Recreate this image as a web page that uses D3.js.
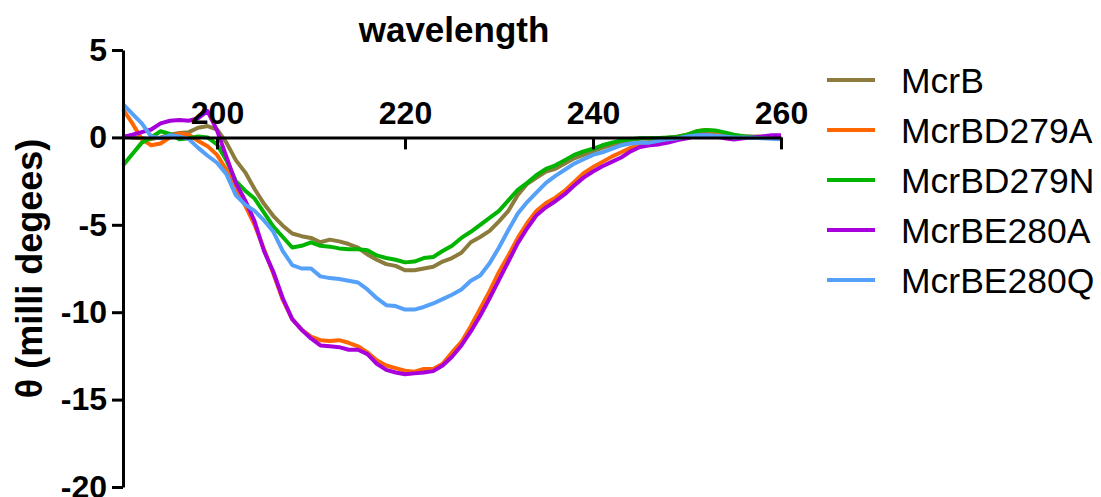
<!DOCTYPE html>
<html>
<head>
<meta charset="utf-8">
<script src="https://cdn.jsdelivr.net/npm/d3@7"></script>
<style>
  html, body { margin: 0; padding: 0; background: #fff; }
  svg { display: block; font-family: "Liberation Sans", Arial, Helvetica, sans-serif; }
</style>
</head>
<body>
<svg id="chart" width="1101" height="497"></svg>
<script>
// CD spectra, 190–260 nm in 1 nm steps
const wavelengths = d3.range(190, 261);

const seriesNames = ["McrB", "McrBD279A", "McrBD279N", "McrBE280A", "McrBE280Q"];
const seriesColors = ["#8B7B3C", "#FF6600", "#00B400", "#A800DC", "#55A0F8"];

const mcrB = [
  0.05, 0.0, -0.05, -0.1, 0.0, 0.15, 0.25, 0.3, 0.55, 0.65,
  0.45, -0.3, -1.3, -2.0, -2.95, -3.8, -4.5, -5.05, -5.5, -5.65,
  -5.75, -6.0, -5.85, -5.95, -6.1, -6.3, -6.7, -7.0, -7.25, -7.35,
  -7.6, -7.6, -7.5, -7.4, -7.1, -6.9, -6.6, -6.0, -5.7, -5.35,
  -4.8, -4.2, -3.3, -2.65, -2.3, -1.95, -1.8, -1.5, -1.2, -1.0,
  -0.8, -0.6, -0.42, -0.28, -0.15, -0.08, -0.05, -0.05, -0.02, 0.05,
  0.15, 0.3, 0.35, 0.3, 0.2, 0.1, 0.05, 0.05, 0.05, 0.05,
  0.0
];

const mcrBD279A = [
  1.6, 0.8, -0.1, -0.45, -0.35, 0.0, 0.22, 0.15, -0.2, -0.5,
  -1.0, -1.85, -3.0, -3.9, -5.0, -6.4, -7.8, -9.3, -10.4, -11.0,
  -11.4, -11.6, -11.65, -11.6, -11.75, -11.95, -12.3, -12.75, -13.05, -13.2,
  -13.35, -13.4, -13.25, -13.25, -12.95, -12.3, -11.7, -10.8, -9.8, -8.8,
  -7.7, -6.75, -5.75, -4.9, -4.2, -3.75, -3.45, -3.05, -2.55, -2.05,
  -1.7, -1.4, -1.1, -0.85, -0.6, -0.4, -0.25, -0.2, -0.1, 0.0,
  0.15, 0.35, 0.42, 0.35, 0.2, 0.1, 0.05, 0.0, 0.0, 0.0,
  -0.05
];

const mcrBD279N = [
  -1.6, -0.95, -0.3, 0.0, 0.35, 0.2, -0.1, -0.05, 0.05, 0.0,
  -0.4, -1.3, -2.5, -3.05, -3.5, -4.3, -5.1, -5.7, -6.3, -6.2,
  -6.0, -6.2, -6.25, -6.35, -6.4, -6.4, -6.45, -6.75, -6.9, -7.0,
  -7.15, -7.1, -6.9, -6.84, -6.5, -6.2, -5.75, -5.4, -5.0, -4.6,
  -4.2, -3.6, -3.0, -2.6, -2.15, -1.8, -1.6, -1.3, -1.0, -0.8,
  -0.65, -0.45, -0.3, -0.18, -0.1, -0.05, -0.05, -0.03, 0.0, 0.03,
  0.15, 0.35, 0.42, 0.4, 0.28, 0.15, 0.07, 0.03, 0.02, 0.0,
  0.0
];

const mcrBE280A = [
  0.03, 0.15, 0.3, 0.45, 0.8, 0.95, 1.0, 0.95, 1.1, 1.5,
  0.4, -1.1, -2.6, -3.6, -4.8, -6.5, -7.7, -9.2, -10.4, -11.0,
  -11.5, -11.9, -11.95, -12.0, -12.15, -12.15, -12.4, -12.95, -13.3, -13.45,
  -13.55, -13.5, -13.45, -13.37, -13.05, -12.55, -11.9, -11.1, -10.2, -9.2,
  -8.15, -7.1, -6.05, -5.2, -4.45, -4.0, -3.65, -3.25, -2.75, -2.3,
  -1.95, -1.65, -1.4, -1.15, -0.8, -0.55, -0.45, -0.4, -0.3, -0.15,
  -0.05, 0.1, 0.13, 0.07, -0.05, -0.12, -0.05, 0.0, 0.05, 0.12,
  0.13
];

const mcrBE280Q = [
  1.9, 1.35, 0.8, 0.05, -0.05, 0.13, 0.05, -0.1, -0.6, -1.05,
  -1.45, -2.1, -3.3, -3.85, -4.2, -4.75, -5.4, -6.5, -7.3, -7.5,
  -7.5, -7.95, -8.05, -8.1, -8.2, -8.3, -8.7, -9.2, -9.6, -9.65,
  -9.85, -9.85, -9.7, -9.5, -9.25, -9.0, -8.7, -8.2, -7.9, -7.2,
  -6.3, -5.3, -4.35, -3.7, -3.15, -2.6, -2.2, -1.85, -1.5, -1.25,
  -1.0, -0.85, -0.65, -0.45, -0.35, -0.3, -0.3, -0.2, -0.1, -0.05,
  0.05, 0.12, 0.13, 0.1, 0.05, 0.0, 0.0, -0.02, -0.05, -0.08,
  -0.1
];

const seriesValues = [mcrB, mcrBD279A, mcrBD279N, mcrBE280A, mcrBE280Q];

const xTicks = [200, 220, 240, 260];
const yTicks = [5, 0, -5, -10, -15, -20];

const svg = d3.select("#chart");

const x = d3.scaleLinear().domain([190, 260]).range([123, 781]);
const y = d3.scaleLinear().domain([-20, 5]).range([487, 50]);

// Plain hyphen-minus for negative tick labels
const fmt = d => String(d);

// Title
svg.append("text")
  .attr("x", 454)
  .attr("y", 42)
  .attr("text-anchor", "middle")
  .attr("font-size", 35)
  .attr("font-weight", "bold")
  .text("wavelength");

// Y axis title
svg.append("text")
  .attr("transform", `translate(42, ${(y(5) + y(-20)) / 2}) rotate(-90)`)
  .attr("text-anchor", "middle")
  .attr("font-size", 36)
  .attr("font-weight", "bold")
  .text("θ (milli degees)");

// Series lines
const line = d3.line()
  .x((d, i) => x(wavelengths[i]))
  .y(d => y(d));

svg.append("g")
  .selectAll("path")
  .data(seriesValues)
  .join("path")
  .attr("d", line)
  .attr("fill", "none")
  .attr("stroke", (d, i) => seriesColors[i])
  .attr("stroke-width", 4)
  .attr("stroke-linejoin", "round");

// X axis along y = 0, labels above the line
const xAxis = svg.append("g")
  .attr("transform", `translate(0, ${y(0)})`)
  .call(d3.axisBottom(x).tickValues(xTicks).tickFormat(fmt)
    .tickSizeInner(12).tickSizeOuter(0).tickPadding(0));
xAxis.select(".domain").attr("stroke", "#000").attr("stroke-width", 3);
xAxis.selectAll(".tick line").attr("stroke", "#000").attr("stroke-width", 3);
xAxis.selectAll(".tick text")
  .attr("y", -13)
  .attr("dy", 0)
  .attr("font-size", 32)
  .attr("font-weight", "bold")
  .attr("font-family", null)
  .attr("fill", "#000");

// Y axis
const yAxis = svg.append("g")
  .attr("transform", `translate(${x(190)}, 0)`)
  .call(d3.axisLeft(y).tickValues(yTicks).tickFormat(fmt)
    .tickSizeInner(11).tickSizeOuter(0).tickPadding(5));
yAxis.select(".domain").attr("stroke", "#000").attr("stroke-width", 3);
yAxis.selectAll(".tick line").attr("stroke", "#000").attr("stroke-width", 3);
yAxis.selectAll(".tick text")
  .attr("font-size", 32)
  .attr("font-weight", "bold")
  .attr("font-family", null)
  .attr("fill", "#000");

// Legend
const legend = svg.append("g").attr("transform", "translate(827, 80)");
const item = legend.selectAll("g")
  .data(seriesNames)
  .join("g")
  .attr("transform", (d, i) => `translate(0, ${i * 50})`);
item.append("line")
  .attr("x1", 0).attr("x2", 48)
  .attr("y1", 0).attr("y2", 0)
  .attr("stroke", (d, i) => seriesColors[i])
  .attr("stroke-width", 4);
item.append("text")
  .attr("x", 74)
  .attr("y", 12.5)
  .attr("font-size", 35.5)
  .text(d => d);
</script>
</body>
</html>
